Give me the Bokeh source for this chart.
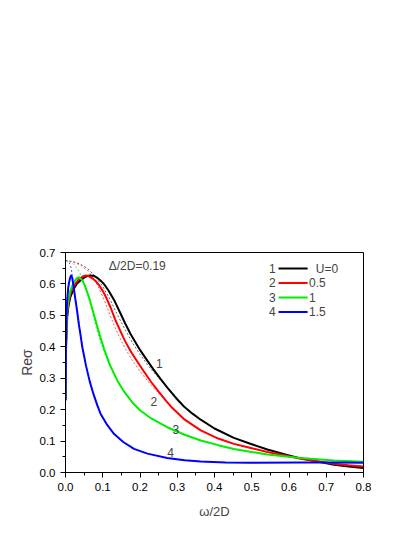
from bokeh.plotting import figure
from bokeh.models import Range1d, NumeralTickFormatter, Label, FixedTicker
from bokeh.embed import file_html
from bokeh.resources import INLINE

FONT = "Liberation Sans"

# ---- data ----
x_u0 = [0, 0.0015, 0.0045, 0.008, 0.013, 0.022, 0.03, 0.04, 0.05, 0.058, 0.067, 0.076, 0.085, 0.094, 0.103,
        0.115, 0.13, 0.148, 0.16, 0.175, 0.2, 0.22, 0.236, 0.255, 0.275, 0.296, 0.318, 0.34, 0.363, 0.4,
        0.452, 0.5, 0.542, 0.59, 0.631, 0.68, 0.721, 0.76, 0.8]
y_u0 = [0.23, 0.40, 0.494, 0.53, 0.558, 0.584, 0.60, 0.611, 0.62, 0.625, 0.627, 0.626, 0.62, 0.611, 0.60,
        0.58, 0.55, 0.505, 0.475, 0.44, 0.39, 0.355, 0.328, 0.298, 0.268, 0.238, 0.21, 0.188, 0.168, 0.14,
        0.11, 0.09, 0.073, 0.057, 0.045, 0.034, 0.025, 0.019, 0.014]

x_u05 = [0, 0.0015, 0.004, 0.008, 0.013, 0.02, 0.027, 0.035, 0.045, 0.054, 0.062, 0.072, 0.08, 0.089, 0.1,
         0.11, 0.121, 0.134, 0.148, 0.16, 0.175, 0.19, 0.21, 0.23, 0.25, 0.27, 0.287, 0.32, 0.363, 0.41,
         0.452, 0.5, 0.542, 0.59, 0.631, 0.68, 0.721, 0.76, 0.8]
y_u05 = [0.23, 0.41, 0.50, 0.54, 0.568, 0.588, 0.602, 0.614, 0.623, 0.627, 0.625, 0.618, 0.61, 0.598, 0.578,
         0.555, 0.525, 0.485, 0.448, 0.418, 0.386, 0.358, 0.322, 0.288, 0.257, 0.228, 0.205, 0.168, 0.134, 0.108,
         0.091, 0.077, 0.065, 0.054, 0.044, 0.035, 0.028, 0.023, 0.019]

x_u1 = [0, 0.0015, 0.004, 0.008, 0.013, 0.022, 0.03, 0.036, 0.045, 0.05, 0.058, 0.065, 0.072, 0.081, 0.09,
        0.103, 0.12, 0.139, 0.157, 0.18, 0.2, 0.23, 0.273, 0.32, 0.363, 0.41, 0.452, 0.542, 0.631, 0.721, 0.8]
y_u1 = [0.23, 0.42, 0.51, 0.55, 0.579, 0.605, 0.618, 0.621, 0.612, 0.60, 0.575, 0.55, 0.52, 0.482, 0.445,
        0.395, 0.34, 0.293, 0.258, 0.222, 0.198, 0.172, 0.144, 0.12, 0.102, 0.087, 0.075, 0.057, 0.046, 0.038, 0.034]

x_u15 = [0, 0.0015, 0.004, 0.007, 0.009, 0.012, 0.015, 0.018, 0.022, 0.026, 0.031, 0.036, 0.04, 0.045, 0.055,
         0.065, 0.075, 0.085, 0.094, 0.11, 0.13, 0.155, 0.184, 0.22, 0.273, 0.32, 0.363, 0.43, 0.497, 0.631,
         0.721, 0.8]
y_u15 = [0.23, 0.45, 0.54, 0.585, 0.60, 0.618, 0.627, 0.62, 0.59, 0.555, 0.515, 0.47, 0.44, 0.40, 0.34,
         0.29, 0.25, 0.215, 0.187, 0.155, 0.123, 0.097, 0.075, 0.06, 0.046, 0.039, 0.035, 0.032, 0.031, 0.032,
         0.032, 0.031]

# dotted (Drude-like) curves
xd_u0 = [0, 0.02, 0.04, 0.06, 0.08, 0.1, 0.12, 0.14, 0.16, 0.18, 0.2, 0.22, 0.24, 0.26, 0.28, 0.3]
yd_u0 = [0.675, 0.671, 0.663, 0.648, 0.624, 0.592, 0.55, 0.50, 0.455, 0.412, 0.376, 0.343, 0.314, 0.288, 0.262, 0.237]

xd_u05 = [0, 0.02, 0.04, 0.06, 0.08, 0.1, 0.115, 0.13, 0.145, 0.16, 0.18, 0.2, 0.22, 0.24, 0.26, 0.28]
yd_u05 = [0.675, 0.67, 0.66, 0.642, 0.61, 0.56, 0.515, 0.47, 0.43, 0.395, 0.355, 0.322, 0.292, 0.265, 0.24, 0.215]

xd_u1 = [0, 0.01, 0.02, 0.03, 0.04, 0.05, 0.06, 0.07, 0.08, 0.09, 0.1, 0.115, 0.13, 0.15]
yd_u1 = [0.675, 0.672, 0.665, 0.652, 0.632, 0.605, 0.567, 0.52, 0.472, 0.43, 0.395, 0.35, 0.31, 0.268]

xd_u15 = [0, 0.005, 0.01, 0.013, 0.016, 0.019, 0.022, 0.026, 0.031, 0.036, 0.04, 0.045]
yd_u15 = [0.675, 0.672, 0.667, 0.66, 0.645, 0.62, 0.597, 0.56, 0.52, 0.478, 0.445, 0.405]

curve_nums = ["1", "2", "3", "4"]
u_labels = ["U=0", "0.5", "1", "1.5"]
colors = ["black", "#ff0000", "#00ee00", "#0000ff"]
dot_colors = ["#444444", "#ff4444", "#33dd33", "#3333ff"]
x_ticks = [0.0, 0.1, 0.2, 0.3, 0.4, 0.5, 0.6, 0.7, 0.8]
y_ticks = [0.0, 0.1, 0.2, 0.3, 0.4, 0.5, 0.6, 0.7]

p = figure(width=408, height=528, output_backend="svg", toolbar_location=None,
           x_range=Range1d(0, 0.8), y_range=Range1d(0, 0.7),
           frame_width=298, frame_height=220,
           min_border_left=65, min_border_right=45, min_border_top=252, min_border_bottom=56,
           x_axis_label="ω/2D", y_axis_label="Reσ")
p.xgrid.visible = False
p.ygrid.visible = False
p.outline_line_color = "black"
p.outline_line_width = 1
p.background_fill_color = "white"
p.border_fill_color = "white"

for ax in (p.xaxis[0], p.yaxis[0]):
    ax.formatter = NumeralTickFormatter(format="0.0")
    ax.major_label_text_font = FONT
    ax.major_label_text_font_size = "11.5px"
    ax.major_label_text_color = "black"
    ax.axis_label_text_font = FONT
    ax.axis_label_text_font_style = "normal"
    ax.axis_label_text_font_size = "13px"
    ax.axis_line_color = "black"
    ax.major_tick_line_color = "black"
    ax.minor_tick_line_color = "black"
    ax.major_tick_out = 5
    ax.major_tick_in = 0
    ax.minor_tick_out = 3
    ax.minor_tick_in = 0
p.xaxis[0].ticker = FixedTicker(ticks=x_ticks, minor_ticks=[v + 0.05 for v in x_ticks])
p.yaxis[0].ticker = FixedTicker(ticks=y_ticks, minor_ticks=[v + 0.05 for v in y_ticks])
p.xaxis[0].axis_label_standoff = 10
p.yaxis[0].axis_label_standoff = 2
p.yaxis[0].axis_label_text_font_size = "14px"

# dotted curves
for (xs, ys), c in zip([(xd_u0, yd_u0), (xd_u05, yd_u05), (xd_u1, yd_u1), (xd_u15, yd_u15)], dot_colors):
    p.line(xs, ys, line_color=c, line_width=1, line_dash="2 2", line_alpha=0.85)

# solid curves
series = [(x_u0, y_u0), (x_u05, y_u05), (x_u1, y_u1), (x_u15, y_u15)]
for (xs, ys), c in zip(series, colors):
    p.line(xs, ys, line_color=c, line_width=2, line_join="round")

# curve number labels
num_pos = [(0.252, 0.346), (0.237, 0.227), (0.296, 0.136), (0.282, 0.065)]
for n, (lx, ly) in zip(curve_nums, num_pos):
    p.add_layout(Label(x=lx, y=ly, text=n, text_font=FONT, text_font_size="12px",
                       text_align="center", text_baseline="middle"))

p.add_layout(Label(x=0.116, y=0.658, text="Δ/2D=0.19", text_font=FONT, text_font_size="12px",
                   text_baseline="middle"))

# legend
row_y = [0.649, 0.603, 0.557, 0.511]
for i, (n, lab, c) in enumerate(zip(curve_nums, u_labels, colors)):
    yy = row_y[i]
    p.add_layout(Label(x=0.555, y=yy, text=n, text_font=FONT, text_font_size="12px",
                       text_align="center", text_baseline="middle"))
    p.segment(x0=[0.572], y0=[yy], x1=[0.650], y1=[yy], line_color=c, line_width=2)
    p.add_layout(Label(x=0.672 if i == 0 else 0.654, y=yy, text=lab, text_font=FONT,
                       text_font_size="12px", text_baseline="middle"))

open("out.html", "w").write(file_html(p, INLINE))
